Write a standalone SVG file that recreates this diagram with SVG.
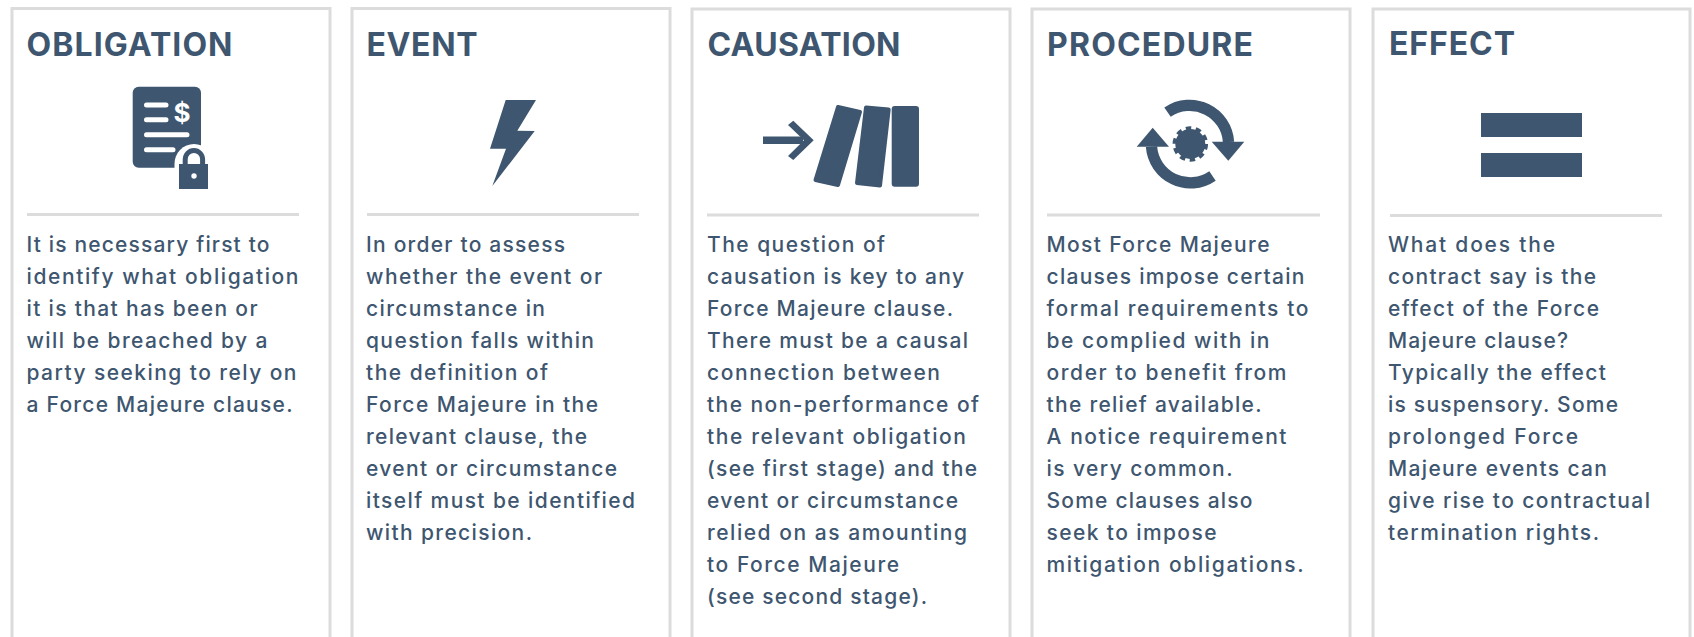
<svg xmlns="http://www.w3.org/2000/svg" width="1694" height="637" viewBox="0 0 1694 637">
<style>
.box{fill:#fff;stroke:#dcdcdc;stroke-width:3}
.div{stroke:#dcdcdc;stroke-width:3}
.ic{fill:#3e566f}
.t{font-family:"Inter","Liberation Sans",sans-serif;font-weight:700;font-size:32px;fill:#3e566f}
.b{font-family:"Inter","Liberation Sans",sans-serif;font-weight:500;font-size:21px;fill:#3e566f}
.w{stroke:#fff;stroke-width:5;stroke-linecap:round;fill:none}
.arc{fill:none;stroke:#3e566f;stroke-width:11.300}
</style>
<rect width="1694" height="637" fill="#fff"/>
<g id="obligation">
<rect class="box" x="12" y="8.500" width="318" height="660"/>
<text class="t" x="26.500" y="56" textLength="206">OBLIGATION</text>
<rect class="ic" x="132.700" y="86.700" width="68.300" height="81" rx="6"/>
<path class="w" d="M146.500 105H166M146.500 119.700H166M146.500 134.700H187M146.500 149.700H173"/>
<text x="182" y="122" text-anchor="middle" font-family="Inter,'Liberation Sans',sans-serif" font-weight="700" font-size="26" fill="#fff">$</text>
<path d="M174.500 194V164a19.500 20 0 0 1 39 0V194z" fill="#fff"/>
<path d="M185.200 166v-6.500a8.700 9 0 0 1 17.400 0v6.500" fill="none" stroke="#3e566f" stroke-width="5"/>
<rect class="ic" x="179" y="164" width="29" height="25"/>
<circle cx="194" cy="176" r="2.700" fill="#fff"/>
<line class="div" x1="27" y1="214.500" x2="299" y2="214.500"/>
<text class="b" x="26.500" y="252" textLength="243">It is necessary first to</text>
<text class="b" x="26.500" y="284" textLength="272">identify what obligation</text>
<text class="b" x="26.500" y="316" textLength="231">it is that has been or</text>
<text class="b" x="26.500" y="348" textLength="241">will be breached by a</text>
<text class="b" x="26.500" y="380" textLength="270">party seeking to rely on</text>
<text class="b" x="26.500" y="412" textLength="266">a Force Majeure clause.</text>
</g>
<g id="event">
<rect class="box" x="352" y="8.500" width="318" height="660"/>
<text class="t" x="366.500" y="56" textLength="111">EVENT</text>
<polygon class="ic" points="505.700,100 536,100 517.300,130.700 534.700,131 492.300,186 506,148.700 490,148.700"/>
<line class="div" x1="367" y1="214.500" x2="639" y2="214.500"/>
<text class="b" x="366" y="252" textLength="199">In order to assess</text>
<text class="b" x="366" y="284" textLength="236">whether the event or</text>
<text class="b" x="366" y="316" textLength="179">circumstance in</text>
<text class="b" x="366" y="348" textLength="228">question falls within</text>
<text class="b" x="366" y="380" textLength="182">the definition of</text>
<text class="b" x="366" y="412" textLength="232">Force Majeure in the</text>
<text class="b" x="366" y="444" textLength="221">relevant clause, the</text>
<text class="b" x="366" y="476" textLength="251">event or circumstance</text>
<text class="b" x="366" y="508" textLength="269">itself must be identified</text>
<text class="b" x="366" y="540" textLength="166">with precision.</text>
</g>
<g id="causation">
<rect class="box" x="692" y="9" width="318" height="660"/>
<text class="t" x="707.500" y="56" textLength="193">CAUSATION</text>
<rect class="ic" x="763" y="136.500" width="40" height="7.500"/>
<polygon class="ic" points="793.300,120.700 813.700,140.300 793.300,160 788,156 804,140.300 788,125"/>
<polygon class="ic" stroke="#3e566f" stroke-width="4" stroke-linejoin="round" points="838,107 860,112 838,185 815.500,180"/>
<polygon class="ic" stroke="#3e566f" stroke-width="4" stroke-linejoin="round" points="866,107.500 888.700,109.500 880,185.500 857,183"/>
<rect class="ic" x="891.700" y="106" width="27.300" height="80.700" rx="3"/>
<line class="div" x1="707" y1="215" x2="979" y2="215"/>
<text class="b" x="707" y="252" textLength="178">The question of</text>
<text class="b" x="707" y="284" textLength="257">causation is key to any</text>
<text class="b" x="707" y="316" textLength="246">Force Majeure clause.</text>
<text class="b" x="707" y="348" textLength="261">There must be a causal</text>
<text class="b" x="707" y="380" textLength="233">connection between</text>
<text class="b" x="707" y="412" textLength="272">the non-performance of</text>
<text class="b" x="707" y="444" textLength="259">the relevant obligation</text>
<text class="b" x="707" y="476" textLength="270">(see first stage) and the</text>
<text class="b" x="707" y="508" textLength="251">event or circumstance</text>
<text class="b" x="707" y="540" textLength="260">relied on as amounting</text>
<text class="b" x="707" y="572" textLength="192">to Force Majeure</text>
<text class="b" x="707" y="604" textLength="220">(see second stage).</text>
</g>
<g id="procedure">
<rect class="box" x="1032" y="9" width="318" height="660"/>
<text class="t" x="1047" y="56" textLength="206">PROCEDURE</text>
<path class="arc" d="M1167.500 112.200A39 39 0 0 1 1228.500 142"/>
<polygon class="ic" points="1211.700,141.700 1244.300,141.700 1228.300,160.700"/>
<path class="arc" d="M1212.500 176A39 39 0 0 1 1151.500 146.700"/>
<polygon class="ic" points="1136.700,146.700 1169,146.700 1152.700,127.700"/>
<circle class="ic" cx="1190.300" cy="144" r="15"/>
<circle cx="1190.300" cy="144" r="16" fill="none" stroke="#3e566f" stroke-width="3.500" stroke-dasharray="5.500 4.553"/>
<line class="div" x1="1047" y1="215" x2="1320" y2="215"/>
<text class="b" x="1046.500" y="252" textLength="223">Most Force Majeure</text>
<text class="b" x="1046.500" y="284" textLength="258">clauses impose certain</text>
<text class="b" x="1046.500" y="316" textLength="262">formal requirements to</text>
<text class="b" x="1046.500" y="348" textLength="223">be complied with in</text>
<text class="b" x="1046.500" y="380" textLength="240">order to benefit from</text>
<text class="b" x="1046.500" y="412" textLength="215">the relief available.</text>
<text class="b" x="1046.500" y="444" textLength="240">A notice requirement</text>
<text class="b" x="1046.500" y="476" textLength="186">is very common.</text>
<text class="b" x="1046.500" y="508" textLength="206">Some clauses also</text>
<text class="b" x="1046.500" y="540" textLength="170">seek to impose</text>
<text class="b" x="1046.500" y="572" textLength="257">mitigation obligations.</text>
</g>
<g id="effect">
<rect class="box" x="1373" y="9" width="317" height="660"/>
<text class="t" x="1389" y="55" textLength="126">EFFECT</text>
<rect class="ic" x="1481" y="113" width="101" height="24"/>
<rect class="ic" x="1481" y="153" width="101" height="24"/>
<line class="div" x1="1390" y1="215.500" x2="1662" y2="215.500"/>
<text class="b" x="1388" y="252" textLength="167">What does the</text>
<text class="b" x="1388" y="284" textLength="208">contract say is the</text>
<text class="b" x="1388" y="316" textLength="211">effect of the Force</text>
<text class="b" x="1388" y="348" textLength="180">Majeure clause?</text>
<text class="b" x="1388" y="380" textLength="218">Typically the effect</text>
<text class="b" x="1388" y="412" textLength="230">is suspensory. Some</text>
<text class="b" x="1388" y="444" textLength="190">prolonged Force</text>
<text class="b" x="1388" y="476" textLength="219">Majeure events can</text>
<text class="b" x="1388" y="508" textLength="262">give rise to contractual</text>
<text class="b" x="1388" y="540" textLength="211">termination rights.</text>
</g>
</svg>
